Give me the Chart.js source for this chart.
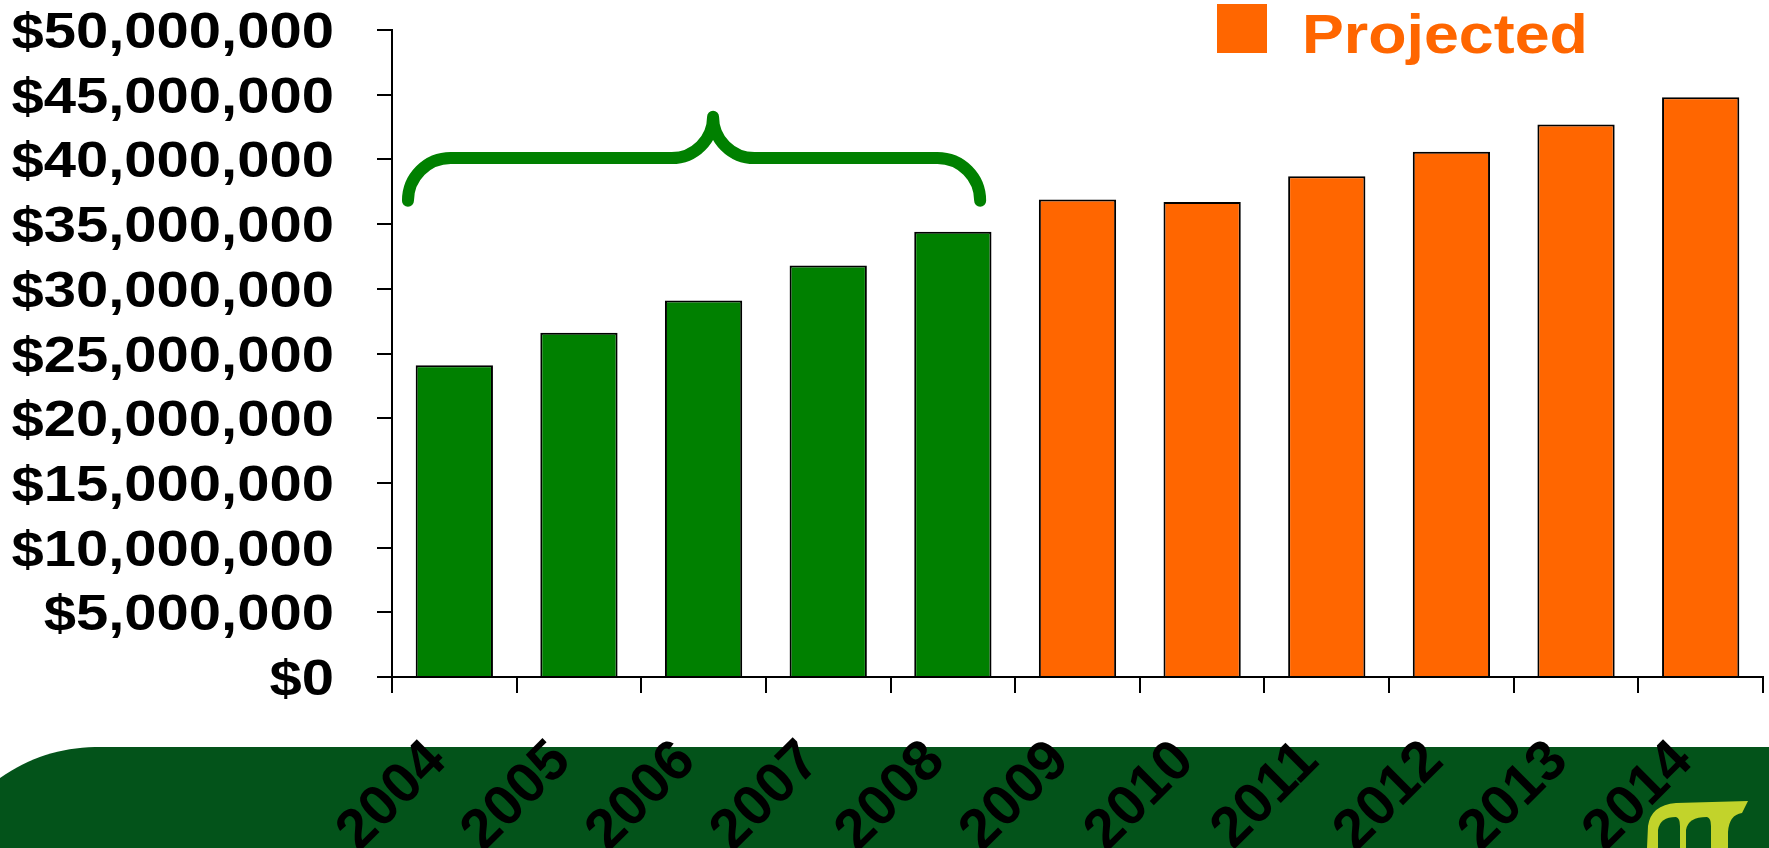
<!DOCTYPE html>
<html>
<head>
<meta charset="utf-8">
<script src="https://cdn.jsdelivr.net/npm/chart.js@4.4.1/dist/chart.umd.min.js"></script>
<style>
	html, body { margin: 0; padding: 0; background: #fff; overflow: hidden; }
	#wrap { width: 1769px; height: 848px; position: relative; }
</style>
</head>
<body>
<div id="wrap"><canvas id="myChart"></canvas></div>
<script>
const years = ['2004', '2005', '2006', '2007', '2008', '2009', '2010', '2011', '2012', '2013', '2014'];
const actual = [24.1e6, 26.6e6, 29.1e6, 31.8e6, 34.4e6, null, null, null, null, null, null];
const projected = [null, null, null, null, null, 36.9e6, 36.7e6, 38.7e6, 40.6e6, 42.7e6, 44.8e6];
const legendLabel = 'Projected';

const GREEN = '#008000';
const ORANGE = '#ff6600';
const BANNER = '#03531a';
const FONT = '"Liberation Sans", Arial, sans-serif';

// brace over the actual years (category index / value units)
const brace = { left: -0.372, peak: 2.076, right: 4.219, endVal: 36.8e6, lineVal: 40.1e6, peakVal: 43.3e6 };

function money(v) {
	return '$' + Math.round(v).toLocaleString('en-US');
}

const decor = {
	id: 'decor',
	beforeDraw(chart) {
		const ctx = chart.ctx;
		const W = chart.width, H = chart.height;
		ctx.save();
		// bottom banner
		ctx.fillStyle = BANNER;
		ctx.beginPath();
		ctx.moveTo(0, H);
		ctx.lineTo(0, 778);
		ctx.bezierCurveTo(30, 757, 60, 748, 95, 747);
		ctx.lineTo(W, 747);
		ctx.lineTo(W, H);
		ctx.closePath();
		ctx.fill();
		// logo
		ctx.fillStyle = '#c2d32b';
		ctx.beginPath();
		ctx.moveTo(1647, H);
		ctx.lineTo(1648, 826);
		ctx.quadraticCurveTo(1651, 805, 1676, 803);
		ctx.lineTo(1748, 801);
		ctx.lineTo(1742, 813);
		ctx.quadraticCurveTo(1729, 815, 1728, 832);
		ctx.lineTo(1728, H);
		ctx.closePath();
		ctx.fill();
		ctx.fillStyle = BANNER;
		[[1658, 1680], [1686, 1711]].forEach(([a, b]) => {
			ctx.beginPath();
			ctx.moveTo(a, H);
			ctx.lineTo(a, 830);
			ctx.quadraticCurveTo(a + 2, 817, b - 4, 817);
			ctx.quadraticCurveTo(b, 818, b, 826);
			ctx.lineTo(b, H);
			ctx.closePath();
			ctx.fill();
		});
		ctx.restore();
	},
	afterDraw(chart) {
		const ctx = chart.ctx;
		const x = chart.scales.x, y = chart.scales.y;
		ctx.save();
		ctx.fillStyle = '#000';

		// y tick labels, slightly stretched like the original slide
		ctx.font = 'bold 50px ' + FONT;
		ctx.textAlign = 'right';
		ctx.textBaseline = 'alphabetic';
		y.ticks.forEach(t => {
			const py = y.getPixelForValue(t.value);
			ctx.save();
			ctx.translate(334, py + 18);
			ctx.scale(1.16, 1);
			ctx.fillText(money(t.value), 0, 0);
			ctx.restore();
		});

		// x tick labels, rotated
		ctx.font = 'bold 57px ' + FONT;
		years.forEach((yr, i) => {
			const px = x.getPixelForValue(i);
			ctx.save();
			ctx.translate(px - 6, 763);
			ctx.rotate(-Math.PI / 4);
			ctx.textAlign = 'right';
			ctx.fillText(yr, 0, 0);
			ctx.restore();
		});

		// brace
		const xl = x.getPixelForValue(brace.left);
		const xp = x.getPixelForValue(brace.peak);
		const xr = x.getPixelForValue(brace.right);
		const ye = y.getPixelForValue(brace.endVal);
		const yl = y.getPixelForValue(brace.lineVal);
		const yp = y.getPixelForValue(brace.peakVal);
		const r = ye - yl;
		const pr = yl - yp;
		ctx.strokeStyle = GREEN;
		ctx.lineWidth = 12;
		ctx.lineCap = 'round';
		ctx.lineJoin = 'round';
		ctx.beginPath();
		ctx.moveTo(xl, ye);
		ctx.arcTo(xl, yl, xl + r, yl, r);
		ctx.lineTo(xp - pr, yl);
		ctx.arcTo(xp, yl, xp, yp, pr);
		ctx.moveTo(xp, yp);
		ctx.arcTo(xp, yl, xp + pr, yl, pr);
		ctx.lineTo(xr - r, yl);
		ctx.arcTo(xr, yl, xr, ye, r);
		ctx.lineTo(xr, ye);
		ctx.stroke();
		ctx.lineCap = 'butt';

		// legend
		ctx.fillStyle = ORANGE;
		ctx.fillRect(1217, 4, 50, 49);
		ctx.font = 'bold 56px ' + FONT;
		ctx.textAlign = 'left';
		ctx.save();
		ctx.translate(1302, 53);
		ctx.scale(1.12, 1);
		ctx.fillText(legendLabel, 0, 0);
		ctx.restore();

		ctx.restore();
	}
};

const ctx = document.getElementById('myChart').getContext('2d');

new Chart(ctx, {
	type: 'bar',
	data: {
		labels: years,
		datasets: [
			{
				label: 'Actual',
				data: actual,
				backgroundColor: GREEN,
				borderColor: '#000',
				borderWidth: 2,
				skipNull: true,
			},
			{
				label: legendLabel,
				data: projected,
				backgroundColor: ORANGE,
				borderColor: '#000',
				borderWidth: 2,
				skipNull: true,
			},
		],
	},
	options: {
		responsive: true,
		maintainAspectRatio: false,
		animation: false,
		layout: { padding: { left: 0, top: 30, right: 6, bottom: 0 } },
		datasets: { bar: { barPercentage: 0.62, categoryPercentage: 1.0 } },
		plugins: {
			legend: { display: false },
			tooltip: { enabled: false },
		},
		scales: {
			x: {
				offset: true,
				grid: { display: true, offset: true, drawOnChartArea: false, color: '#000', lineWidth: 2, tickLength: 16 },
				border: { display: true, color: '#000', width: 2 },
				ticks: { display: false },
				afterFit: s => { s.height = 171; },
			},
			y: {
				min: 0,
				max: 50e6,
				ticks: { display: false, stepSize: 5e6 },
				grid: { display: true, drawOnChartArea: false, color: '#000', lineWidth: 2, tickLength: 15 },
				border: { display: true, color: '#000', width: 2 },
				afterFit: s => { s.width = 392; },
			},
		},
	},
	plugins: [decor],
});
</script>
</body>
</html>
